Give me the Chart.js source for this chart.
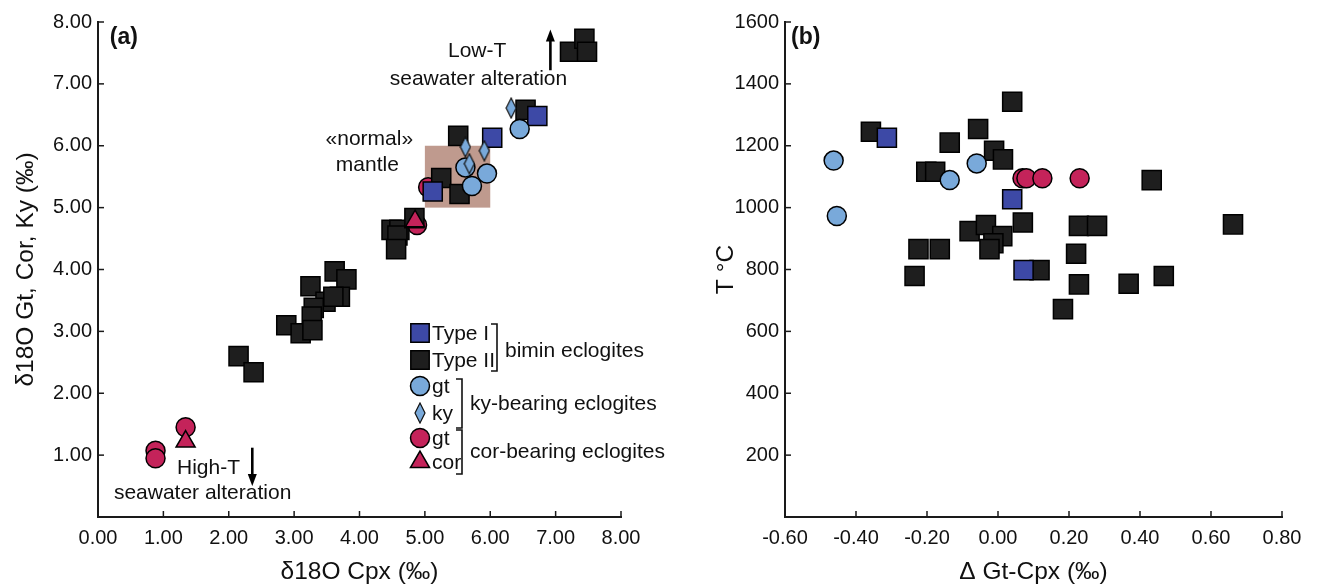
<!DOCTYPE html>
<html><head><meta charset="utf-8">
<script src="https://cdn.jsdelivr.net/npm/chart.js@4.4.1/dist/chart.umd.min.js"></script>
<style>
html,body{margin:0;padding:0;background:#fff;}
#wrap{position:relative;width:1320px;height:588px;overflow:hidden;}
.c{position:absolute;top:0;height:588px;}
</style></head><body>
<div id="wrap"><div class="c" style="left:0;width:760px"><canvas id="ca"></canvas></div><div class="c" style="left:660px;width:660px"><canvas id="cb"></canvas></div></div>
<script>
// ---------- DATA: panel (a) δ18O Cpx vs δ18O Gt/Cor/Ky ----------
const aTypeI  = [[6.72,6.48],[6.03,6.13],[5.12,5.26]];
const aTypeII = [[7.22,7.52],[7.44,7.73],[7.48,7.52],[6.54,6.58],[5.51,6.16],[5.25,5.48],[5.53,5.22],
  [4.49,4.64],[4.61,4.64],[4.58,4.55],[4.56,4.33],[4.84,4.83],
  [3.62,3.97],[3.80,3.84],[3.25,3.73],[3.70,3.56],[3.48,3.48],[3.60,3.56],[3.30,3.38],[3.27,3.24],
  [2.88,3.10],[3.10,2.97],[3.28,3.02],[2.15,2.60],[2.38,2.34]];
const aKyGt   = [[6.45,6.27],[5.62,5.65],[5.72,5.35],[5.95,5.55]];
const aKyKy   = [[6.32,6.61],[5.62,5.98],[5.91,5.92],[5.68,5.71]];
const aCorGt  = [[5.05,5.33],[4.88,4.72],[1.34,1.45],[0.88,1.07],[0.88,0.95]];
const aCorCor = [[4.85,4.78],[1.34,1.22]];
const aNormalMantle = [5.0, 6.0, 5.0, 6.0]; // xmin, xmax, ymin, ymax
const aXTicks = [0,1,2,3,4,5,6,7,8];
const aYTicks = [1,2,3,4,5,6,7,8];

// ---------- DATA: panel (b) Δ Gt-Cpx vs T ----------
const bTypeI  = [[-0.313,1226],[0.040,1027],[0.072,798]];
const bTypeII = [[0.040,1342],[-0.358,1245],[-0.056,1254],[-0.136,1210],[-0.011,1184],[0.014,1156],
  [-0.202,1116],[-0.177,1116],[0.433,1089],[0.070,952],[0.228,941],[0.279,941],[0.662,946],
  [-0.080,924],[-0.034,944],[0.012,908],[-0.013,885],[-0.024,866],[-0.224,866],[-0.164,866],
  [0.220,851],[-0.235,779],[0.117,798],[0.228,752],[0.368,754],[0.467,779],[0.183,672]];
const bKyGt   = [[-0.463,1152],[-0.454,973],[-0.136,1089],[-0.060,1143]];
const bCorGt  = [[0.069,1095],[0.080,1095],[0.125,1095],[0.230,1095]];
const bXTicks = [-0.6,-0.4,-0.2,0,0.2,0.4,0.6,0.8];
const bYTicks = [200,400,600,800,1000,1200,1400,1600];

// ---------- styles ----------
const FONT = "'Liberation Sans', Arial, sans-serif";
const C_TYPEI = '#3d49a6', C_TYPEII = '#1e1e1e', C_KY = '#79a9da', C_COR = '#c4235a', C_MANTLE = '#bf9a8e';
const AX = '#1a1a1a';
const TXT = 21, TICK = 20, TITLE = 24.5;

function diamondCanvas(){
  const c = document.createElement('canvas'); c.width = 12; c.height = 22;
  const g = c.getContext('2d');
  g.beginPath(); g.moveTo(6,1); g.lineTo(11,11); g.lineTo(6,21); g.lineTo(1,11); g.closePath();
  g.fillStyle = C_KY; g.fill(); g.lineWidth = 1.2; g.strokeStyle = '#111'; g.stroke();
  return c;
}
const DIAMOND = diamondCanvas();
const pts = arr => arr.map(p => ({x:p[0], y:p[1]}));
function ds(label, arr, style, color, radius, order){
  return {label, data: pts(arr), pointStyle: style, backgroundColor: color, borderColor: '#000',
    borderWidth: 1.5, pointRadius: radius, pointHoverRadius: radius, order, showLine:false};
}
function tickSetter(list){ return s => { s.ticks = list.map(v => ({value:v})); }; }

const innerTicks = {
  id:'innerTicks',
  afterDraw(chart){
    const ctx = chart.ctx, x = chart.scales.x, y = chart.scales.y;
    ctx.save(); ctx.strokeStyle = AX; ctx.lineWidth = 1.5;
    x.ticks.forEach(t => { const px = x.getPixelForValue(t.value);
      ctx.beginPath(); ctx.moveTo(px, y.bottom); ctx.lineTo(px, y.bottom - 6); ctx.stroke(); });
    y.ticks.forEach(t => { const py = y.getPixelForValue(t.value);
      ctx.beginPath(); ctx.moveTo(x.left, py); ctx.lineTo(x.left + 6, py); ctx.stroke(); });
    ctx.restore();
  }
};

function arrow(ctx, x, y1, y2){ // from y1 to tip y2
  const dir = y2 < y1 ? -1 : 1;
  ctx.save(); ctx.strokeStyle = '#000'; ctx.fillStyle = '#000'; ctx.lineWidth = 2.6;
  ctx.beginPath(); ctx.moveTo(x, y1); ctx.lineTo(x, y2 - dir*10); ctx.stroke();
  ctx.beginPath(); ctx.moveTo(x, y2); ctx.lineTo(x - 4.5, y2 - dir*12); ctx.lineTo(x + 4.5, y2 - dir*12); ctx.closePath(); ctx.fill();
  ctx.restore();
}
function marker(ctx, style, color, r, x, y){
  ctx.save(); ctx.fillStyle = color; ctx.strokeStyle = '#000'; ctx.lineWidth = 1.5;
  if (style === 'diamond') ctx.drawImage(DIAMOND, x - 6, y - 11);
  else Chart.helpers.drawPoint(ctx, {pointStyle: style, radius: r, rotation: 0, borderWidth: 1.5}, x, y);
  ctx.restore();
}
function bracket(ctx, x, y1, y2){
  ctx.save(); ctx.strokeStyle = '#111'; ctx.lineWidth = 1.6;
  ctx.beginPath(); ctx.moveTo(x - 6, y1); ctx.lineTo(x, y1); ctx.lineTo(x, y2); ctx.lineTo(x - 6, y2); ctx.stroke();
  ctx.restore();
}

const mantleBox = {
  id:'mantleBox',
  beforeDatasetsDraw(chart){
    const ctx = chart.ctx, x = chart.scales.x, y = chart.scales.y;
    const x1 = x.getPixelForValue(aNormalMantle[0]), x2 = x.getPixelForValue(aNormalMantle[1]);
    const y1 = y.getPixelForValue(aNormalMantle[3]), y2 = y.getPixelForValue(aNormalMantle[2]);
    ctx.save(); ctx.fillStyle = C_MANTLE; ctx.fillRect(x1, y1, x2 - x1, y2 - y1); ctx.restore();
  }
};

const annotA = {
  id:'annotA',
  afterDraw(chart){
    const ctx = chart.ctx, x = chart.scales.x, y = chart.scales.y;
    const X = v => x.getPixelForValue(v), Y = v => y.getPixelForValue(v);
    ctx.save(); ctx.fillStyle = '#111'; ctx.textBaseline = 'middle';
    ctx.font = `bold 23px ${FONT}`; ctx.textAlign = 'left'; ctx.fillText('(a)', X(0.18), Y(7.74));
    ctx.font = `${TXT}px ${FONT}`; ctx.textAlign = 'center';
    ctx.fillText('Low-T', X(5.80), Y(7.52));
    ctx.fillText('seawater alteration', X(5.82), Y(7.08));
    ctx.fillText('«normal»', X(4.15), Y(6.10));
    ctx.fillText('mantle', X(4.12), Y(5.68));
    ctx.fillText('High-T', X(1.69), Y(0.79));
    ctx.fillText('seawater alteration', X(1.60), Y(0.39));
    ctx.restore();
    arrow(ctx, X(6.92), Y(7.22), Y(7.88));
    arrow(ctx, X(2.36), Y(1.12), Y(0.50));
    // legend
    const mx = 420, tx = 432;
    const rows = [
      ['rect', C_TYPEI, 13, 'Type I', 333], ['rect', C_TYPEII, 13, 'Type II', 360],
      ['circle', C_KY, 9.5, 'gt', 386], ['diamond', C_KY, 0, 'ky', 413],
      ['circle', C_COR, 9.5, 'gt', 438], ['triangle', C_COR, 11, 'cor', 462]
    ];
    rows.forEach(r => marker(ctx, r[0], r[1], r[2], mx, r[4]));
    ctx.save(); ctx.fillStyle = '#111'; ctx.textBaseline = 'middle'; ctx.textAlign = 'left'; ctx.font = `${TXT}px ${FONT}`;
    rows.forEach(r => ctx.fillText(r[3], tx, r[4] + 1));
    ctx.fillText('bimin eclogites', 505, 351);
    ctx.fillText('ky-bearing eclogites', 470, 404);
    ctx.fillText('cor-bearing eclogites', 470, 452);
    ctx.restore();
    bracket(ctx, 497, 324, 371);
    bracket(ctx, 462, 379, 428);
    bracket(ctx, 462, 430, 474);
  }
};
const annotB = {
  id:'annotB',
  afterDraw(chart){
    const ctx = chart.ctx, x = chart.scales.x, y = chart.scales.y;
    ctx.save(); ctx.fillStyle = '#111'; ctx.textBaseline = 'middle';
    ctx.font = `bold 23px ${FONT}`; ctx.textAlign = 'left';
    ctx.fillText('(b)', x.left + 6, y.getPixelForValue(1550));
    ctx.restore();
  }
};

function scales(cfg){
  return {
    x: { type:'linear', min: cfg.xmin, max: cfg.xmax, afterBuildTicks: tickSetter(cfg.xt),
      afterFit: s => { s.height = 71; },
      grid:{display:false, drawTicks:false, tickLength:0}, border:{display:true, color:AX, width:2},
      ticks:{font:{family:FONT, size:TICK}, color:'#111', padding:9, maxRotation:0, autoSkip:false,
        callback: v => cfg.xfmt(v)},
      title:{display:true, text:cfg.xtitle, font:{family:FONT, size:TITLE}, color:'#111', padding:{top:0,bottom:1.5}} },
    y: { type:'linear', min: cfg.ymin, max: cfg.ymax, afterBuildTicks: tickSetter(cfg.yt),
      afterFit: s => { s.width = cfg.yw; },
      grid:{display:false, drawTicks:false, tickLength:0}, border:{display:true, color:AX, width:2},
      ticks:{font:{family:FONT, size:TICK}, color:'#111', padding:6, autoSkip:false,
        callback: v => cfg.yfmt(v)},
      title:{display:true, text:cfg.ytitle, font:{family:FONT, size:TITLE}, color:'#111', padding:{top:cfg.ytpad,bottom:0}} }
  };
}
const common = {
  responsive:true, maintainAspectRatio:false, animation:false,
  plugins:{legend:{display:false}, tooltip:{enabled:false}},
  events:[]
};

new Chart(document.getElementById('ca'), {
  type:'scatter',
  data:{ datasets:[
    ds('cor', aCorCor, 'triangle', C_COR, 11, 1),
    ds('ky', aKyKy, DIAMOND, C_KY, 10, 2),
    ds('gt ky-bearing', aKyGt, 'circle', C_KY, 9.5, 3),
    ds('Type I', aTypeI, 'rect', C_TYPEI, 13.5, 4),
    ds('Type II', aTypeII, 'rect', C_TYPEII, 13.5, 5),
    ds('gt cor-bearing', aCorGt, 'circle', C_COR, 9.5, 6)
  ]},
  options: Object.assign({}, common, {
    layout:{padding:{left:0, right:139, top:22, bottom:0}},
    scales: scales({xmin:0, xmax:8, ymin:0, ymax:8, xt:aXTicks, yt:aYTicks, yw:98, ytpad:12,
      xfmt: v => v.toFixed(2), yfmt: v => v.toFixed(2),
      xtitle:'δ18O Cpx (‰)', ytitle:'δ18O Gt, Cor, Ky (‰)'})
  }),
  plugins:[mantleBox, innerTicks, annotA]
});

new Chart(document.getElementById('cb'), {
  type:'scatter',
  data:{ datasets:[
    ds('gt ky-bearing', bKyGt, 'circle', C_KY, 9.5, 1),
    ds('gt cor-bearing', bCorGt, 'circle', C_COR, 9.5, 2),
    ds('Type I', bTypeI, 'rect', C_TYPEI, 13.5, 3),
    ds('Type II', bTypeII, 'rect', C_TYPEII, 13.5, 4)
  ]},
  options: Object.assign({}, common, {
    layout:{padding:{left:0, right:38, top:22, bottom:0}},
    scales: scales({xmin:-0.6, xmax:0.8, ymin:0, ymax:1600, xt:bXTicks, yt:bYTicks, yw:125, ytpad:52,
      xfmt: v => v.toFixed(2), yfmt: v => String(Math.round(v)),
      xtitle:'Δ Gt-Cpx (‰)', ytitle:'T °C'})
  }),
  plugins:[innerTicks, annotB]
});
</script>
</body></html>
